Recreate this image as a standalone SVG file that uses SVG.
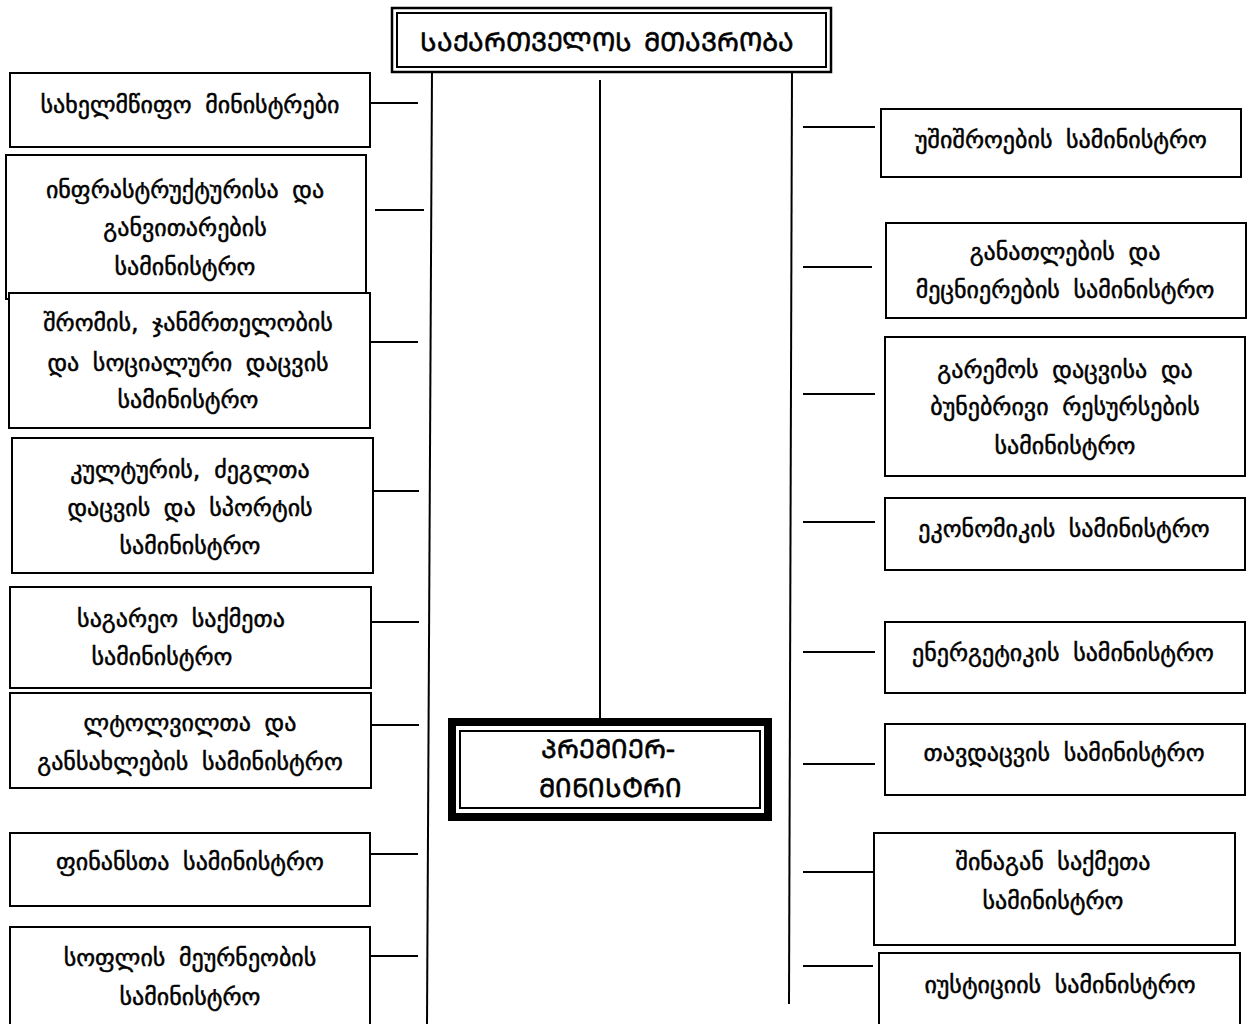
<svg xmlns="http://www.w3.org/2000/svg" width="1247" height="1024" viewBox="0 0 1247 1024">
<style>
.box{fill:#fff;stroke:#000;stroke-width:2}
.conn{stroke:#000;stroke-width:2;fill:none}
.t{font-family:"DejaVu Sans","Noto Sans",sans-serif;font-size:24px;text-anchor:middle;fill:#000;stroke:#000;stroke-width:0.5;word-spacing:6px}
.cap{font-family:"DejaVu Sans","Noto Sans",sans-serif;font-size:26px;text-anchor:middle;fill:#000;stroke:#000;stroke-width:0.6;word-spacing:4px}
</style>
<rect width="1247" height="1024" fill="#fff"/>
<g id="connectors">
<line class="conn" x1="432" y1="70" x2="427" y2="1024"/>
<line class="conn" x1="792" y1="70" x2="789" y2="1004"/>
<line class="conn" x1="600" y1="80" x2="600" y2="722"/>
<line class="conn" x1="370" y1="103" x2="418" y2="103"/>
<line class="conn" x1="375" y1="210" x2="424" y2="210"/>
<line class="conn" x1="370" y1="342" x2="418" y2="342"/>
<line class="conn" x1="371" y1="491" x2="419" y2="491"/>
<line class="conn" x1="371" y1="622" x2="419" y2="622"/>
<line class="conn" x1="371" y1="725" x2="419" y2="725"/>
<line class="conn" x1="370" y1="854" x2="418" y2="854"/>
<line class="conn" x1="370" y1="956" x2="418" y2="956"/>
<line class="conn" x1="803" y1="127" x2="875" y2="127"/>
<line class="conn" x1="803" y1="267" x2="872" y2="267"/>
<line class="conn" x1="803" y1="394" x2="875" y2="394"/>
<line class="conn" x1="803" y1="522" x2="875" y2="522"/>
<line class="conn" x1="803" y1="652" x2="875" y2="652"/>
<line class="conn" x1="803" y1="764" x2="875" y2="764"/>
<line class="conn" x1="803" y1="872" x2="874" y2="872"/>
<line class="conn" x1="803" y1="966" x2="873" y2="966"/>
</g>
<g id="government">
<rect x="392" y="8" width="439" height="64" fill="#fff" stroke="#000" stroke-width="2.5"/>
<rect x="397" y="13" width="429" height="54" fill="none" stroke="#000" stroke-width="2"/>
<text class="cap" x="607" y="51">ᲡᲐᲥᲐᲠᲗᲕᲔᲚᲝᲡ ᲛᲗᲐᲕᲠᲝᲑᲐ</text>
</g>
<g id="premier">
<rect x="452" y="722" width="316" height="95" fill="#fff" stroke="#000" stroke-width="8"/>
<rect x="460" y="731" width="300" height="77" fill="none" stroke="#000" stroke-width="2"/>
<text class="cap" x="608" y="758">ᲞᲠᲔᲛᲘᲔᲠ-</text>
<text class="cap" x="610" y="797">ᲛᲘᲜᲘᲡᲢᲠᲘ</text>
</g>
<g id="l1"><rect class="box" x="10" y="73" width="360" height="74"/><text class="t" x="190" y="113">სახელმწიფო მინისტრები</text></g>
<g id="l2"><rect class="box" x="6" y="155" width="360" height="144"/><text class="t" x="185" y="198">ინფრასტრუქტურისა და</text><text class="t" x="185" y="236">განვითარების</text><text class="t" x="185" y="275">სამინისტრო</text></g>
<g id="l3"><rect class="box" x="9" y="293" width="361" height="135"/><text class="t" x="188" y="331">შრომის, ჯანმრთელობის</text><text class="t" x="188" y="371">და სოციალური დაცვის</text><text class="t" x="188" y="408">სამინისტრო</text></g>
<g id="l4"><rect class="box" x="12" y="438" width="361" height="135"/><text class="t" x="190" y="478">კულტურის, ძეგლთა</text><text class="t" x="190" y="516">დაცვის და სპორტის</text><text class="t" x="190" y="554">სამინისტრო</text></g>
<g id="l5"><rect class="box" x="10" y="587" width="361" height="101"/><text class="t" x="181" y="627">საგარეო საქმეთა</text><text class="t" x="162" y="665">სამინისტრო</text></g>
<g id="l6"><rect class="box" x="10" y="693" width="361" height="95"/><text class="t" x="190" y="731">ლტოლვილთა და</text><text class="t" x="190" y="770">განსახლების სამინისტრო</text></g>
<g id="l7"><rect class="box" x="10" y="833" width="360" height="73"/><text class="t" x="190" y="870">ფინანსთა სამინისტრო</text></g>
<g id="l8"><rect class="box" x="10" y="927" width="360" height="110"/><text class="t" x="190" y="966">სოფლის მეურნეობის</text><text class="t" x="190" y="1005">სამინისტრო</text></g>
<g id="r1"><rect class="box" x="881" y="109" width="360" height="68"/><text class="t" x="1061" y="148">უშიშროების სამინისტრო</text></g>
<g id="r2"><rect class="box" x="886" y="223" width="360" height="95"/><text class="t" x="1065" y="260">განათლების და</text><text class="t" x="1065" y="298">მეცნიერების სამინისტრო</text></g>
<g id="r3"><rect class="box" x="885" y="337" width="360" height="139"/><text class="t" x="1065" y="378">გარემოს დაცვისა და</text><text class="t" x="1065" y="415">ბუნებრივი რესურსების</text><text class="t" x="1065" y="454">სამინისტრო</text></g>
<g id="r4"><rect class="box" x="885" y="498" width="360" height="72"/><text class="t" x="1064" y="537">ეკონომიკის სამინისტრო</text></g>
<g id="r5"><rect class="box" x="885" y="622" width="360" height="71"/><text class="t" x="1063" y="661">ენერგეტიკის სამინისტრო</text></g>
<g id="r6"><rect class="box" x="885" y="724" width="360" height="71"/><text class="t" x="1064" y="761">თავდაცვის სამინისტრო</text></g>
<g id="r7"><rect class="box" x="874" y="833" width="361" height="112"/><text class="t" x="1053" y="870">შინაგან საქმეთა</text><text class="t" x="1053" y="909">სამინისტრო</text></g>
<g id="r8"><rect class="box" x="879" y="953" width="361" height="90"/><text class="t" x="1060" y="993">იუსტიციის სამინისტრო</text></g>
</svg>
